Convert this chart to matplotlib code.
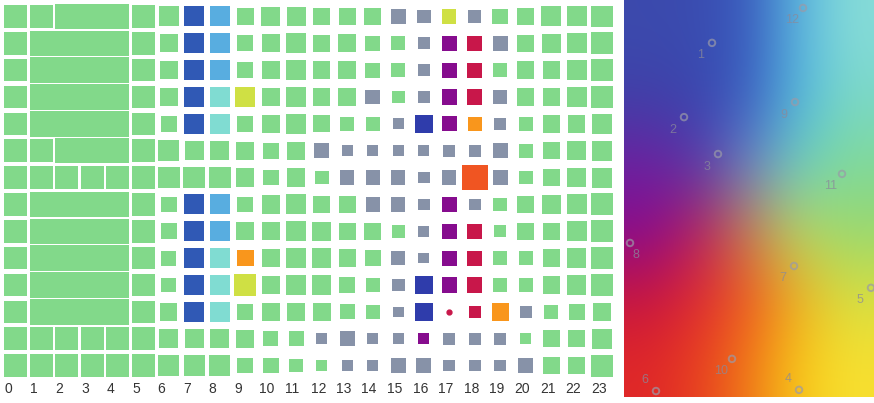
import numpy as np
import matplotlib
matplotlib.use("Agg")
import matplotlib.pyplot as plt
from matplotlib.patches import Rectangle
from matplotlib.colors import to_rgb

# ---- grid data (14 rows x 24 columns) ----
columns = list(range(24))

# colour code per cell
cell_codes = [
    "gggggg" + "gBlgggggg" + "aayag" + "gggg",
    "gggggg" + "gBlgggggg" + "gapra" + "gggg",
    "gggggg" + "gBlgggggg" + "gaprg" + "gggg",
    "gggggg" + "gBcygggga" + "gapra" + "gggg",
    "gggggg" + "gBcgggggg" + "anpoa" + "gggg",
    "gggggg" + "ggggggaaa" + "aaaaa" + "gggg",
    "gggggg" + "gggggggaa" + "aaaRa" + "gggg",
    "gggggg" + "gBlggggga" + "aapag" + "gggg",
    "gggggg" + "gBlgggggg" + "gaprg" + "gggg",
    "gggggg" + "gBcoggggg" + "aaprg" + "gggg",
    "gggggg" + "gBcyggggg" + "anprg" + "gggg",
    "gggggg" + "gBcgggggg" + "anrro" + "aggg",
    "gggggg" + "ggggggaaa" + "apaaa" + "gggg",
    "gggggg" + "gggggggaa" + "aaaaa" + "aggg",
]

# relative square size for columns 6..23 (columns 0..5 are full cells)
sizes_right = [
    [.78, .78, .78, .65, .75, .76, .67, .68, .68, .59, .54, .56, .52, .61, .65, .78, .78, .85],
    [.72, .78, .78, .62, .72, .78, .68, .72, .58, .56, .46, .59, .59, .60, .68, .76, .78, .86],
    [.72, .78, .78, .62, .72, .78, .68, .72, .58, .56, .46, .59, .59, .56, .68, .68, .78, .86],
    [.72, .78, .78, .78, .72, .78, .68, .72, .58, .50, .46, .59, .59, .56, .68, .68, .78, .86],
    [.62, .78, .78, .62, .72, .78, .67, .54, .54, .44, .72, .59, .56, .46, .54, .68, .68, .78],
    [.81, .76, .76, .72, .62, .72, .58, .42, .42, .42, .42, .46, .46, .58, .54, .68, .76, .78],
    [.85, .85, .85, .72, .62, .72, .54, .56, .56, .56, .46, .56, 1.0, .58, .54, .68, .76, .78],
    [.62, .78, .78, .62, .72, .78, .68, .68, .56, .56, .46, .59, .46, .54, .68, .76, .78, .86],
    [.62, .78, .78, .72, .72, .80, .76, .68, .68, .50, .42, .59, .59, .46, .68, .68, .78, .86],
    [.58, .78, .78, .65, .72, .80, .76, .68, .62, .56, .42, .59, .59, .54, .54, .68, .76, .86],
    [.58, .78, .78, .87, .72, .80, .76, .62, .54, .50, .72, .59, .59, .54, .54, .68, .76, .86],
    [.68, .78, .78, .62, .72, .72, .72, .58, .54, .42, .72, .16, .46, .68, .46, .54, .62, .72],
    [.76, .76, .76, .72, .58, .58, .44, .58, .44, .44, .44, .46, .46, .46, .42, .68, .68, .78],
    [.81, .81, .81, .62, .62, .54, .44, .44, .44, .58, .58, .46, .46, .46, .58, .68, .68, .86],
]

# merged cells in the left block: (row, first column, last column)
merged = [(0, 2, 4), (1, 1, 4), (2, 1, 4), (3, 1, 4), (4, 1, 4), (5, 2, 4),
          (7, 1, 4), (8, 1, 4), (9, 1, 4), (10, 1, 4), (11, 1, 4)]

palette = {
    "g": "#82d98a", "a": "#8792a8", "B": "#3059b5", "l": "#58ade0",
    "c": "#80dcd2", "y": "#cfe044", "o": "#f9961c", "n": "#2f3cab",
    "p": "#860c8e", "r": "#c8174a", "R": "#f05522",
}

# ---- colour map panel data ----
map_colors = [
    ["#3c4aad", "#3a4cb0", "#3a5cbf", "#58b6e0", "#86dcd8"],
    ["#4040a8", "#3a45ae", "#3b62c2", "#52b8df", "#7ad8c8"],
    ["#6d20a0", "#5838aa", "#6a86c8", "#6ccfc2", "#80da98"],
    ["#8a0a8e", "#b82060", "#c8804e", "#b8d860", "#98d870"],
    ["#c81540", "#e02a30", "#f05a20", "#f0b020", "#d8e040"],
    ["#e02828", "#e84020", "#f07a18", "#f8c818", "#f8e030"],
]
point_labels = ["1", "2", "3", "4", "5", "6", "7", "8", "9", "10", "11", "12"]
point_x = [0.352, 0.240, 0.376, 0.700, 0.988, 0.128, 0.680, 0.024, 0.684, 0.432, 0.872, 0.716]
point_y = [0.108, 0.295, 0.388, 0.982, 0.725, 0.985, 0.670, 0.612, 0.257, 0.904, 0.438, 0.020]
label_offsets = {"4": (-8, 8), "6": (-8, 8), "8": (4, -9)}

W, H = 874, 403
fig = plt.figure(figsize=(W / 100, H / 100), dpi=100)

# ---- left grid ----
ax = fig.add_axes([3 / W, 1 - 379 / H, 612 / W, 376 / H])
ax.set_xlim(0, 24)
ax.set_ylim(14, 0)
ax.axis("off")
ratio = (612 / 24) / (376 / 14)

merged_cells = set()
for r, c0, c1 in merged:
    for c in range(c0, c1 + 1):
        merged_cells.add((r, c))
    w = (c1 - c0 + 1) - 0.08
    h = 0.95
    ax.add_patch(Rectangle((c0 + 0.04, r + 0.5 - h / 2), w, h,
                           facecolor=palette["g"], edgecolor="none"))

for r, codes in enumerate(cell_codes):
    for c in columns:
        if (r, c) in merged_cells:
            continue
        s = 0.89 if c < 6 else sizes_right[r][c - 6]
        col = palette[codes[c]]
        if codes[c] == "r" and s < 0.3:
            ax.plot(c + 0.5, r + 0.5, "o", color=col, ms=3.5)
            continue
        w, h = s, s * ratio
        ax.add_patch(Rectangle((c + 0.5 - w / 2, r + 0.5 - h / 2), w, h,
                               facecolor=col, edgecolor="none"))

for c in columns:
    fig.text((3 + c * 25.5 + 1.5) / W, 1 - 389 / H, str(c), ha="left",
             va="center", fontsize=10, color="#333333", family="Liberation Sans")

# ---- right colour map ----
ax2 = fig.add_axes([624 / W, 1 - 397 / H, 250 / W, 397 / H])
img = np.array([[to_rgb(v) for v in row] for row in map_colors])
ax2.imshow(img, extent=(0, 1, 1, 0), aspect="auto", interpolation="bicubic")
ax2.set_xlim(0, 1)
ax2.set_ylim(1, 0)
ax2.axis("off")
ax2.scatter(point_x, point_y, s=22, facecolors="none", edgecolors="#9a9aa8",
            linewidths=1.4, alpha=0.7, clip_on=False)
for lab, x, y in zip(point_labels, point_x, point_y):
    dx, dy = label_offsets.get(lab, (-8, -9))
    ax2.annotate(lab, (x, y), xytext=(dx, dy), textcoords="offset points",
                 ha="center", va="center", fontsize=9, color="#8a8a9a",
                 alpha=0.75, family="Liberation Sans")

fig.savefig("out.png", dpi=100)
